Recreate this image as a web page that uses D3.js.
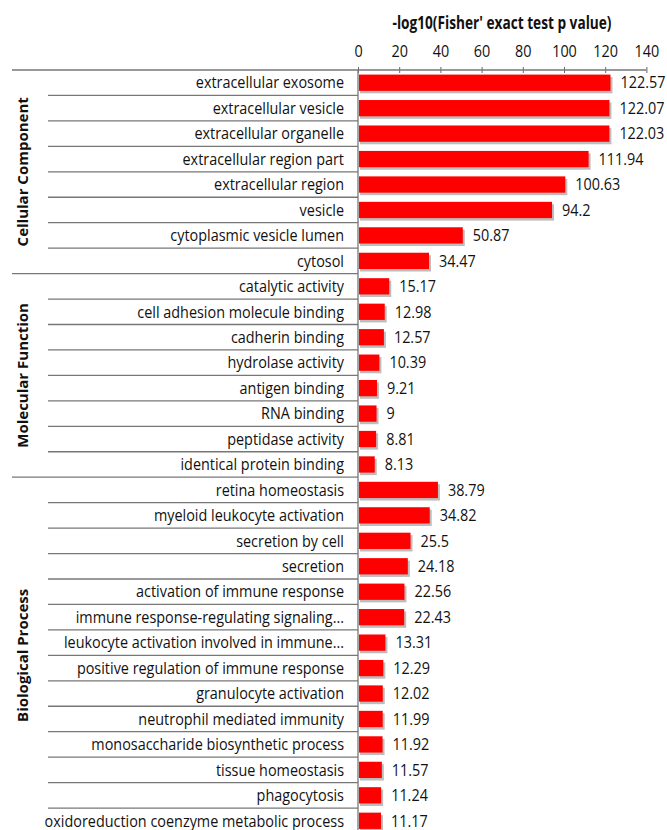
<!DOCTYPE html>
<html>
<head>
<meta charset="UTF-8">
<title>GO enrichment</title>
<script src="https://cdnjs.cloudflare.com/ajax/libs/d3/7.8.5/d3.min.js"></script>
<style>
  body { margin: 0; background: #fff; }
  svg text { font-family: "Open Sans", sans-serif; fill: #111; }
</style>
</head>
<body>
<div id="chart"></div>
<script>
// terms, top to bottom
const terms = [
  "extracellular exosome", "extracellular vesicle", "extracellular organelle",
  "extracellular region part", "extracellular region", "vesicle",
  "cytoplasmic vesicle lumen", "cytosol",
  "catalytic activity", "cell adhesion molecule binding", "cadherin binding",
  "hydrolase activity", "antigen binding", "RNA binding", "peptidase activity",
  "identical protein binding",
  "retina homeostasis", "myeloid leukocyte activation", "secretion by cell",
  "secretion", "activation of immune response", "immune response-regulating signaling...",
  "leukocyte activation involved in immune...", "positive regulation of immune response",
  "granulocyte activation", "neutrophil mediated immunity",
  "monosaccharide biosynthetic process", "tissue homeostasis", "phagocytosis",
  "oxidoreduction coenzyme metabolic process"
];
const values = [
  122.57, 122.07, 122.03, 111.94, 100.63, 94.2, 50.87, 34.47,
  15.17, 12.98, 12.57, 10.39, 9.21, 9, 8.81, 8.13,
  38.79, 34.82, 25.5, 24.18, 22.56, 22.43, 13.31, 12.29,
  12.02, 11.99, 11.92, 11.57, 11.24, 11.17
];
const groups = ["Cellular Component", "Molecular Function", "Biological Process"];
const groupSizes = [8, 8, 14];
const xTicks = [0, 20, 40, 60, 80, 100, 120, 140];
const xTitle = "-log10(Fisher' exact test p value)";

const width = 667, height = 830;
const x0 = 358, topY = 70, rowH = 25.45;
const squeeze = 0.9; // narrow look of the original font

const svg = d3.select("#chart").append("svg")
  .attr("width", width).attr("height", height);

const x = d3.scaleLinear().domain([0, 140]).range([x0, x0 + 288.4]);
const y = d3.scaleBand().domain(d3.range(terms.length))
  .range([topY, topY + rowH * terms.length]).paddingInner(0.36).paddingOuter(0.18);

// axis on top, ticks crossing the line
const axis = svg.append("g").attr("transform", `translate(0,${topY})`)
  .call(d3.axisTop(x).tickValues(xTicks).tickSizeInner(3).tickSizeOuter(0).tickPadding(10));
axis.select(".domain").remove();
axis.selectAll("line").attr("stroke", "#666").attr("y1", 3).attr("y2", -3);
axis.selectAll("text").attr("font-size", 16).attr("fill", "#111")
  .attr("transform", `scale(${squeeze},1)`);

svg.append("text").attr("x", 502).attr("y", 29)
  .attr("text-anchor", "middle").attr("font-size", 17).attr("font-weight", "bold")
  .attr("textLength", 219).attr("lengthAdjust", "spacingAndGlyphs")
  .text(xTitle);

// top line across the whole chart
svg.append("line").attr("x1", 12).attr("x2", x(140)).attr("y1", topY).attr("y2", topY)
  .attr("stroke", "#777").attr("stroke-width", 1.3);

// row and group separators
const starts = [];
let acc = 0;
groupSizes.forEach(n => { starts.push(acc); acc += n; });
d3.range(1, terms.length).forEach(i => {
  const isGroup = starts.includes(i);
  svg.append("line")
    .attr("x1", isGroup ? 12 : 48).attr("x2", x0)
    .attr("y1", topY + i * rowH).attr("y2", topY + i * rowH)
    .attr("stroke", "#777").attr("stroke-width", 1.3);
});

// vertical axis line
svg.append("line").attr("x1", x0).attr("x2", x0).attr("y1", topY).attr("y2", height)
  .attr("stroke", "#777").attr("stroke-width", 1.3);

// bars with shadow
const bars = svg.append("g");
bars.selectAll("rect.shadow").data(values).join("rect")
  .attr("class", "shadow")
  .attr("x", x(0) + 2).attr("y", (d, i) => y(i) + 2.5)
  .attr("width", d => x(d) - x(0)).attr("height", y.bandwidth())
  .attr("fill", "#bdbdbd");
bars.selectAll("rect.bar").data(values).join("rect")
  .attr("class", "bar")
  .attr("x", x(0) + 1).attr("y", (d, i) => y(i))
  .attr("width", d => x(d) - x(0) - 1).attr("height", y.bandwidth())
  .attr("fill", "#ff0000");

// value labels
svg.append("g").selectAll("text").data(values).join("text")
  .attr("transform", (d, i) => `translate(${x(d) + 10},${y(i) + y.bandwidth() / 2}) scale(${squeeze},1)`)
  .attr("dy", "0.36em").attr("font-size", 16)
  .text(d => d);

// category labels
svg.append("g").selectAll("text").data(terms).join("text")
  .attr("transform", (d, i) => `translate(${x0 - 14},${y(i) + y.bandwidth() / 2}) scale(${squeeze},1)`)
  .attr("dy", "0.36em").attr("text-anchor", "end").attr("font-size", 16)
  .text(d => d);

// group labels
groups.forEach((g, k) => {
  const cy = topY + (starts[k] + groupSizes[k] / 2) * rowH;
  svg.append("text")
    .attr("transform", `translate(28,${cy}) rotate(-90)`)
    .attr("text-anchor", "middle").attr("font-size", 15).attr("font-weight", "bold")
    .text(g);
});
</script>
</body>
</html>
